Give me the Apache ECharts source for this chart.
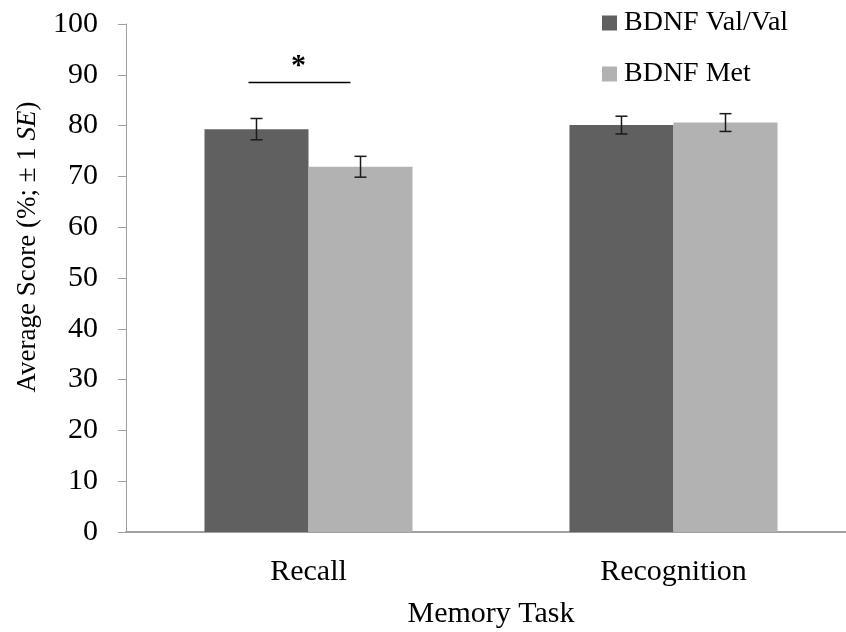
<!DOCTYPE html>
<html>
<head>
<meta charset="utf-8">
<script src="https://cdn.jsdelivr.net/npm/echarts@6/dist/echarts.min.js"></script>
<style>
  html, body { margin: 0; padding: 0; background: #fff; }
  #chart { width: 846px; height: 632px; }
</style>
</head>
<body>
<div id="chart"></div>
<script>
// Memory task scores by BDNF genotype (mean ± 1 SE)
const categories = ['Recall', 'Recognition'];
const seriesNames = ['BDNF Val/Val', 'BDNF Met'];
const valValScores = [79.3, 80.1];
const metScores = [71.9, 80.6];
const valValSE = [2.1, 1.75];
const metSE = [2.05, 1.75];

// Significance marker over the Recall pair
const sigCategory = [0];
const sigLineLevel = [88.5];
const sigStarLevel = [92.5];

const FONT = '"Liberation Serif", "Times New Roman", serif';
const CAT_GAP = 0.43;

function errorBarSeries(means, errs, side) {
  return {
    type: 'custom',
    silent: true,
    z: 10,
    encode: { x: 0, y: [1, 2] },
    data: means.map((m, i) => [i, m - errs[i], m + errs[i]]),
    renderItem(params, api) {
      const band = api.size([1, 0])[0];
      const bw = band * (1 - CAT_GAP) / 2;
      const lo = api.coord([api.value(0), api.value(1)]);
      const hi = api.coord([api.value(0), api.value(2)]);
      const x = lo[0] + side * bw / 2;
      const cap = 6;
      const st = { stroke: '#1a1a1a', lineWidth: 1.5 };
      return {
        type: 'group',
        children: [
          { type: 'line', shape: { x1: x, y1: hi[1], x2: x, y2: lo[1] }, style: st },
          { type: 'line', shape: { x1: x - cap, y1: hi[1], x2: x + cap, y2: hi[1] }, style: st },
          { type: 'line', shape: { x1: x - cap, y1: lo[1], x2: x + cap, y2: lo[1] }, style: st }
        ]
      };
    }
  };
}

const chart = echarts.init(document.getElementById('chart'), null, { renderer: 'canvas' });

chart.setOption({
  animation: false,
  backgroundColor: '#fff',
  textStyle: { fontFamily: FONT },
  grid: {
    left: 126, width: 730, top: 24, height: 508,
    containLabel: false,
    outerBoundsMode: 'none'
  },
  legend: {
    data: seriesNames,
    orient: 'vertical',
    left: 597,
    top: 4,
    itemWidth: 15,
    itemHeight: 15,
    itemGap: 23,
    icon: 'rect',
    textStyle: { fontFamily: FONT, fontSize: 28, color: '#000', padding: [0, 0, 0, 2] }
  },
  xAxis: {
    type: 'category',
    data: categories,
    name: 'Memory Task',
    nameLocation: 'middle',
    nameGap: 67,
    nameTextStyle: { fontFamily: FONT, fontSize: 30, color: '#000' },
    axisLine: { show: true, lineStyle: { color: '#a0a0a0', width: 2 } },
    axisTick: { show: false },
    axisLabel: { fontFamily: FONT, fontSize: 30, color: '#000', margin: 25 },
    splitLine: { show: false }
  },
  yAxis: {
    type: 'value',
    min: 0,
    max: 100,
    interval: 10,
    name: 'Average Score (%; ± 1 {i|SE})',
    nameLocation: 'middle',
    nameGap: 85,
    nameRotate: 90,
    nameTextStyle: {
      fontFamily: FONT, fontSize: 27, color: '#000',
      padding: [0, 0, 0, 62],
      rich: { i: { fontFamily: FONT, fontSize: 27, fontStyle: 'italic', color: '#000' } }
    },
    axisLine: { show: true, lineStyle: { color: '#a0a0a0', width: 1 } },
    axisTick: { show: true, inside: false, length: 8, lineStyle: { color: '#a0a0a0' } },
    axisLabel: { fontFamily: FONT, fontSize: 30, color: '#000', margin: 28 },
    splitLine: { show: false }
  },
  series: [
    {
      name: seriesNames[0],
      type: 'bar',
      data: valValScores,
      barGap: '0%',
      barCategoryGap: (CAT_GAP * 100) + '%',
      itemStyle: { color: '#606060' }
    },
    {
      name: seriesNames[1],
      type: 'bar',
      data: metScores,
      barGap: '0%',
      barCategoryGap: (CAT_GAP * 100) + '%',
      itemStyle: { color: '#b2b2b2' }
    },
    errorBarSeries(valValScores, valValSE, -1),
    errorBarSeries(metScores, metSE, 1),
    {
      type: 'custom',
      silent: true,
      z: 10,
      data: sigCategory.map((c, i) => [c, sigLineLevel[i], sigStarLevel[i]]),
      renderItem(params, api) {
        const lineP = api.coord([api.value(0), api.value(1)]);
        const starP = api.coord([api.value(0), api.value(2)]);
        return {
          type: 'group',
          children: [
            {
              type: 'line',
              shape: { x1: lineP[0] - 60, y1: lineP[1], x2: lineP[0] + 42, y2: lineP[1] },
              style: { stroke: '#000', lineWidth: 1.5 }
            },
            {
              type: 'text',
              x: starP[0] - 10,
              y: starP[1] + 4,
              style: {
                text: '*', fontFamily: FONT, fontSize: 30, fontWeight: 'bold', fill: '#000',
                align: 'center', verticalAlign: 'middle'
              }
            }
          ]
        };
      }
    }
  ]
});
</script>
</body>
</html>
